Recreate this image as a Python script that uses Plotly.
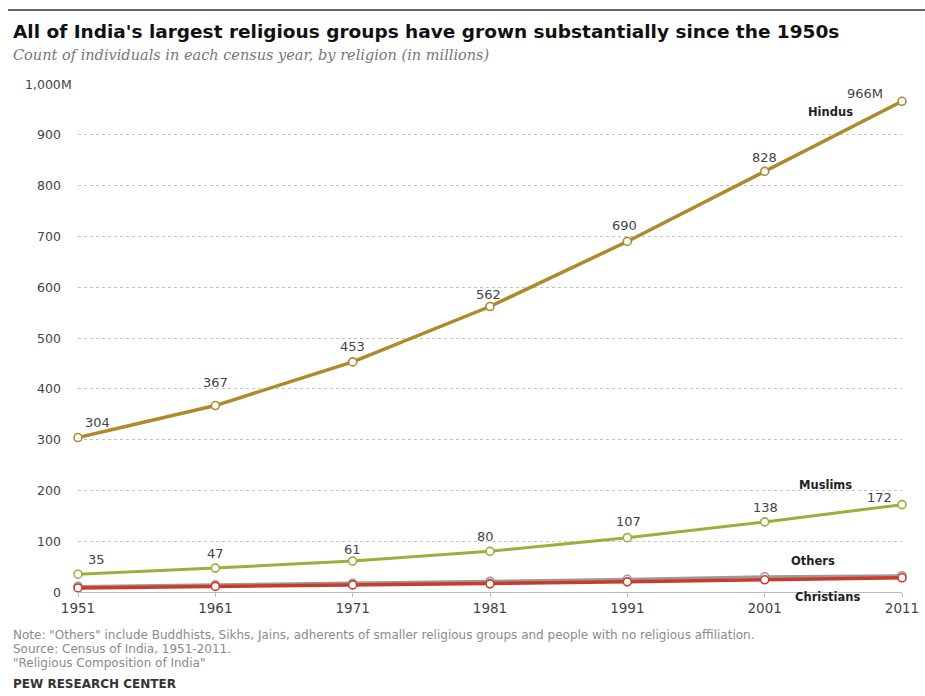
import plotly.graph_objects as go

years = [1951, 1961, 1971, 1981, 1991, 2001, 2011]
hindus = [304, 367, 453, 562, 690, 828, 966]
muslims = [35, 47, 61, 80, 107, 138, 172]
others = [11, 14, 17, 21, 25, 30, 32]
christians = [8, 11, 14, 16, 20, 24, 28]

hindu_labels = ["304", "367", "453", "562", "690", "828", "966M"]
muslim_labels = ["35", "47", "61", "80", "107", "138", "172"]

y_ticks = [0, 100, 200, 300, 400, 500, 600, 700, 800, 900, 1000]
y_ticktext = ["0", "100", "200", "300", "400", "500", "600", "700", "800", "900", "1,000"]
y_suffix = "M"

title = "All of India's largest religious groups have grown substantially since the 1950s"
subtitle = "Count of individuals in each census year, by religion (in millions)"
notes = [
    'Note: "Others" include Buddhists, Sikhs, Jains, adherents of smaller religious groups and people with no religious affiliation.',
    "Source: Census of India, 1951-2011.",
    '"Religious Composition of India"',
]
source = "PEW RESEARCH CENTER"

C_H = "#ad8a2c"
C_M = "#97b23a"
C_O = "#9a9a9a"
C_C = "#cc3a2e"

W, H = 925, 696
ml, mr, mt, mb = 78, 23, 84, 104
ph = H - mt - mb
pw = W - ml - mr


def py(ypix):
    return (H - mb - ypix) / ph


def px(xpix):
    return (xpix - ml) / pw


fig = go.Figure()


def add_series(vals, color, width):
    fig.add_trace(go.Scatter(
        x=years, y=vals, mode="lines+markers",
        line=dict(color=color, width=width),
        marker=dict(symbol="circle", size=8, color="white", line=dict(color=color, width=1.6)),
        cliponaxis=False, showlegend=False, hoverinfo="x+y",
    ))


add_series(others, C_O, 3)
add_series(christians, C_C, 3.5)
add_series(muslims, C_M, 3)
add_series(hindus, C_H, 3.5)

LBL = dict(family="DejaVu Sans", size=13, color="#444")
h_off = [(19, 15), (0, 23), (0, 15), (-2, 12), (-3, 16), (0, 14), (-37, 8)]
for x, y, t, (dx, dy) in zip(years, hindus, hindu_labels, h_off):
    fig.add_annotation(x=x, y=y, text=t, showarrow=False, xshift=dx, yshift=dy, font=LBL)
m_off = [(18, 15), (0, 15), (0, 12), (-5, 15), (1, 16), (1, 14), (-23, 7)]
for x, y, t, (dx, dy) in zip(years, muslims, muslim_labels, m_off):
    fig.add_annotation(x=x, y=y, text=t, showarrow=False, xshift=dx, yshift=dy, font=LBL)

SER = dict(family="DejaVu Sans", size=11.5, color="#222")
fig.add_annotation(x=2011, y=hindus[-1], text="<b>Hindus</b>", showarrow=False, xshift=-72, yshift=-11, font=SER)
fig.add_annotation(x=2011, y=muslims[-1], text="<b>Muslims</b>", showarrow=False, xshift=-77, yshift=20, font=SER)
fig.add_annotation(x=2011, y=others[-1], text="<b>Others</b>", showarrow=False, xshift=-89, yshift=15, font=SER)
fig.add_annotation(x=2011, y=christians[-1], text="<b>Christians</b>", showarrow=False, xshift=-75, yshift=-19, font=SER)

# y tick labels (right-aligned numbers, "M" suffix hanging)
TICK = dict(family="DejaVu Sans", size=12.5, color="#444")
for v, t in zip(y_ticks, y_ticktext):
    fig.add_annotation(xref="paper", yref="y", x=px(63), y=v, text=t, showarrow=False,
                       xanchor="right", yanchor="middle", font=TICK)
fig.add_annotation(xref="paper", yref="y", x=px(63), y=y_ticks[-1], text=y_suffix, showarrow=False,
                   xanchor="left", yanchor="middle", xshift=-4, font=TICK)

texts = [
    (32, f"<b>{title}</b>", dict(family="DejaVu Sans", size=18.5, color="#111")),
    (55, f"<i>{subtitle}</i>", dict(family="DejaVu Serif", size=14.5, color="#777")),
    (635, notes[0], dict(family="DejaVu Sans", size=12, color="#8a8a8a")),
    (649, notes[1], dict(family="DejaVu Sans", size=12, color="#8a8a8a")),
    (663, notes[2], dict(family="DejaVu Sans", size=12, color="#8a8a8a")),
    (684, f"<b>{source}</b>", dict(family="DejaVu Sans", size=12, color="#333")),
]
for ypix, t, f in texts:
    fig.add_annotation(xref="paper", yref="paper", x=px(11), y=py(ypix), xanchor="left", yanchor="middle",
                       showarrow=False, text=t, font=f)

fig.add_shape(type="line", xref="paper", yref="paper", x0=px(8), x1=px(925), y0=py(10), y1=py(10),
              line=dict(color="#666", width=2))

fig.update_layout(
    width=W, height=H,
    margin=dict(l=ml, r=mr, t=mt, b=mb, autoexpand=False),
    plot_bgcolor="white", paper_bgcolor="white",
    xaxis=dict(range=[1951, 2011], tickvals=years, ticktext=[str(y) for y in years],
               showgrid=False, zeroline=False, showline=True, linecolor="#b8bcc8", linewidth=1,
               ticks="outside", ticklen=4, tickcolor="#b8bcc8",
               tickfont=dict(family="DejaVu Sans", size=13.5, color="#444")),
    yaxis=dict(range=[0, 1000], tickvals=y_ticks[1:], showticklabels=False,
               showgrid=True, gridcolor="#c4c4c4", griddash="dot", gridwidth=1,
               zeroline=False, showline=False, ticks=""),
    hovermode="closest",
)

fig.write_html("out.html")
